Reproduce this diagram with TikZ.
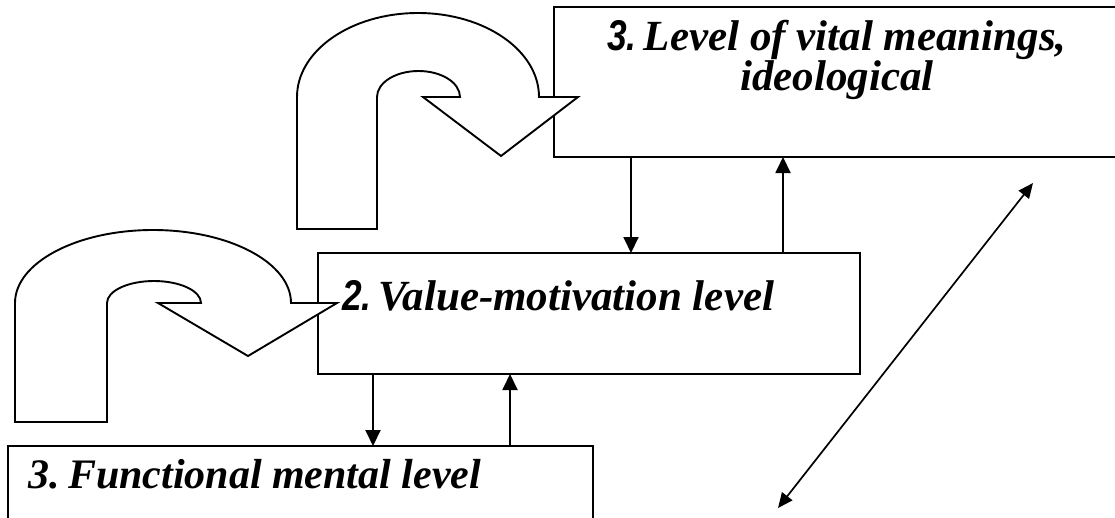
\documentclass[tikz,border=0pt]{standalone}
\usepackage{fontspec}
\setmainfont{Liberation Serif}
\newfontfamily\narrowsans{Liberation Sans}
\usepackage{graphicx}
\usetikzlibrary{arrows.meta,positioning}
\newcommand{\lvlnum}[1]{\scalebox{0.82}[1]{\narrowsans\bfseries #1}}

\begin{document}
\begin{tikzpicture}[x=1pt,y=-1pt,
    levelbox/.style={draw,line width=1.9pt,rectangle,inner sep=0pt,outer sep=0pt,anchor=north west},
    leveltext/.style={font=\fontsize{43}{40}\selectfont\bfseries\itshape,inner sep=0pt},
    flow/.style={line width=1.9pt,-{Triangle[length=16pt,width=15pt]}},
    uturn/.style={draw,line width=1.9pt,fill=white,line join=miter}]
\useasboundingbox (0,0) rectangle (1115,517);
\clip (0,0) rectangle (1115,517);
\node[levelbox,minimum width=566pt,minimum height=150pt] (top) at (554,7) {};
\node[levelbox,minimum width=542pt,minimum height=121pt] (mid) at (318,253) {};
\node[levelbox,minimum width=585pt,minimum height=120pt] (low) at (8,446) {};
\node[leveltext,align=center,anchor=base] (toptext) at ([yshift=-83pt]top.north) {\lvlnum{3.}\,Level of vital meanings,\\ideological};
\node[leveltext,anchor=base west] (midtext) at ([shift={(24pt,-57pt)}]mid.north west) {\lvlnum{2.}\,Value-motivation level};
\node[leveltext,font=\fontsize{42}{40}\selectfont\bfseries\itshape,anchor=base west] (lowtext) at ([shift={(20pt,-42pt)}]low.north west) {3.\hspace{0.2em}Functional mental level};
\coordinate (a1) at ([xshift=77pt]top.south west);
\coordinate (a2) at ([xshift=465pt]mid.north west);
\coordinate (a3) at ([xshift=55pt]mid.south west);
\coordinate (a4) at ([xshift=192pt]mid.south west);
\draw[flow] (a1) -- (a1 |- mid.north);
\draw[flow] (a2) -- (a2 |- top.south);
\draw[flow] (a3) -- (a3 |- low.north);
\draw[flow] (a4 |- low.north) -- (a4);
\coordinate (d1) at (778,508);
\coordinate (d2) at (1033,183);
\draw[line width=1.7pt,{Triangle[length=15pt,width=13pt]}-{Triangle[length=15pt,width=13pt]}] (d1) -- (d2);
\draw[uturn] (297,229) -- (297,97) arc[start angle=180,end angle=360,x radius=121,y radius=84] -- (578,97) -- (501,156) -- (423,97) -- (460,97) arc[start angle=0,end angle=-180,x radius=41.5,y radius=26] -- (377,229) -- cycle;
\draw[uturn] (15,422) -- (15,303) arc[start angle=180,end angle=360,x radius=138,y radius=73] -- (337,303) -- (248,356) -- (158,303) -- (201,303) arc[start angle=0,end angle=-180,x radius=47,y radius=22] -- (107,422) -- cycle;
\end{tikzpicture}
\end{document}
